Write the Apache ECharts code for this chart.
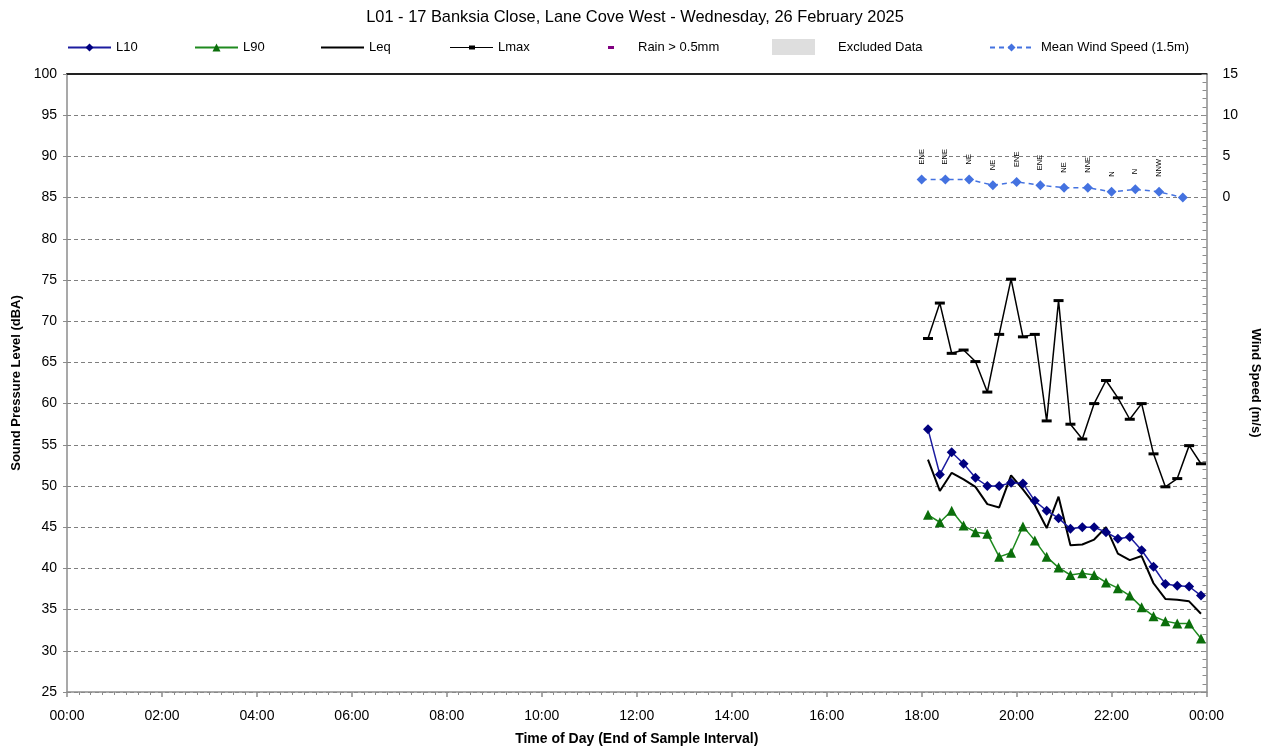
<!DOCTYPE html>
<html>
<head>
<meta charset="utf-8">
<script src="https://cdn.jsdelivr.net/npm/echarts@6/dist/echarts.min.js"></script>
<style>
html,body{margin:0;padding:0;background:#fff;}
#chart{width:1270px;height:751px;}
</style>
</head>
<body>
<div id="chart"></div>
<script>
// ---- Data ----
const titleText = "L01 - 17 Banksia Close, Lane Cove West - Wednesday, 26 February 2025";
const soundTimes = ["18:08","18:23","18:38","18:53","19:08","19:23","19:38","19:53","20:08","20:23","20:38","20:53","21:08","21:23","21:38","21:53","22:08","22:23","22:38","22:53","23:08","23:23","23:38","23:53"];
const L10 = [56.9, 51.4, 54.1, 52.7, 51.0, 50.0, 50.0, 50.4, 50.3, 48.2, 47.0, 46.1, 44.8, 45.0, 45.0, 44.4, 43.6, 43.8, 42.2, 40.2, 38.1, 37.9, 37.8, 36.7];
const L90 = [46.5, 45.6, 47.0, 45.2, 44.4, 44.2, 41.4, 41.9, 45.1, 43.4, 41.4, 40.1, 39.2, 39.4, 39.2, 38.3, 37.6, 36.7, 35.3, 34.2, 33.6, 33.3, 33.3, 31.5];
const Leq = [53.2, 49.4, 51.6, 50.8, 49.9, 47.8, 47.4, 51.3, 49.6, 47.7, 44.9, 48.7, 42.8, 42.9, 43.5, 45.0, 41.8, 41.0, 41.5, 38.2, 36.3, 36.2, 36.0, 34.5];
const Lmax = [67.9, 72.2, 66.1, 66.5, 65.1, 61.4, 68.4, 75.1, 68.1, 68.4, 57.9, 72.5, 57.5, 55.7, 60.0, 62.8, 60.7, 58.1, 60.0, 53.9, 49.9, 50.9, 54.9, 52.7];
const windTimes = ["18:00","18:30","19:00","19:30","20:00","20:30","21:00","21:30","22:00","22:30","23:00","23:30"];
const windSpeed = [2.2, 2.2, 2.2, 1.5, 1.9, 1.5, 1.2, 1.2, 0.7, 1.0, 0.7, 0.0];
const windDirs = ["ENE","ENE","NE","NE","ENE","ENE","NE","NNE","N","N","NNW",""];
const xTickLabels = ["00:00","02:00","04:00","06:00","08:00","10:00","12:00","14:00","16:00","18:00","20:00","22:00","00:00"];

// ---- Helpers ----
function toHours(t){ const p = t.split(":"); return (+p[0]) + (+p[1])/60; }
function pairs(times, vals){ return times.map((t,i)=>[toHours(t), vals[i]]); }

const FONT = "'Liberation Sans', Arial, sans-serif";
const chart = echarts.init(document.getElementById('chart'), null, {renderer:'canvas'});

const legendBase = {
  top: 41, itemHeight: 10, itemWidth: 43, padding: 0,
  textStyle: {fontFamily: FONT, fontSize: 13, color: '#000'},
  selectedMode: false
};
function lg(name, left, extra){ return Object.assign({}, legendBase, {data:[name], left: left}, extra||{}); }

const option = {
  backgroundColor: '#fff',
  animation: false,
  title: {
    text: titleText, left: 'center', top: 4,
    textStyle: {fontFamily: FONT, fontSize: 16.4, fontWeight: 'normal', color: '#000'}
  },
  legend: [
    lg('L10', 67),
    lg('L90', 194),
    lg('Leq', 321, {data:[{name:'Leq', icon:'path://M0,0H43V2H0Z'}], itemHeight: 2}),
    lg('Lmax', 450, {data:[{name:'Lmax', icon:'path://M0,1.4H43V2.6H0Z M19,0H25V4H19Z'}], itemHeight: 4}),
    lg('Rain > 0.5mm', 608, {data:[{name:'Rain > 0.5mm', icon:'rect'}], itemWidth: 6, itemHeight: 3, textStyle:{fontFamily: FONT, fontSize: 13, color:'#000', padding:[0,0,0,19]}}),
    lg('Excluded Data', 772, {data:[{name:'Excluded Data', icon:'rect'}], itemHeight: 16, top: 39, textStyle:{fontFamily: FONT, fontSize: 13, color:'#000', padding:[0,0,0,18]}}),
    lg('Mean Wind Speed (1.5m)', 989, {textStyle:{fontFamily: FONT, fontSize: 13, color:'#000', padding:[0,0,0,3]}})
  ],
  grid: {left: 67, right: 58, top: 74, bottom: 54, containLabel: false},
  xAxis: [{
    type: 'value', min: 0, max: 24, interval: 2,
    name: 'Time of Day (End of Sample Interval)', nameLocation: 'middle', nameGap: 40,
    nameTextStyle: {fontFamily: FONT, fontSize: 14, fontWeight: 'bold', color: '#000'},
    axisLine: {show: true, onZero: false, lineStyle: {color: '#8c8c8c', width: 1.5}},
    axisTick: {show: true, length: 5, lineStyle: {color: '#8c8c8c', width: 1.5}},
    minorTick: {show: true, splitNumber: 8, length: 3, lineStyle: {color: '#8c8c8c', width: 1}},
    axisLabel: {fontFamily: FONT, fontSize: 14, color: '#000', margin: 17,
      formatter: function(v){ return xTickLabels[Math.round(v/2)]; }},
    splitLine: {show: false}
  }, {
    type: 'value', min: 0, max: 24, position: 'top',
    axisLine: {show: true, onZero: false, lineStyle: {color: '#222', width: 2}},
    axisTick: {show: false}, axisLabel: {show: false}, splitLine: {show: false}
  }],
  yAxis: [{
    type: 'value', min: 25, max: 100, interval: 5,
    name: 'Sound Pressure Level (dBA)', nameLocation: 'middle', nameGap: 40,
    nameTextStyle: {fontFamily: FONT, fontSize: 13, fontWeight: 'bold', color: '#000'},
    axisLine: {show: true, onZero: false, lineStyle: {color: '#8c8c8c', width: 1.5}},
    axisTick: {show: true, length: 4, lineStyle: {color: '#8c8c8c'}},
    minorTick: {show: false},
    axisLabel: {fontFamily: FONT, fontSize: 14, color: '#000', margin: 10},
    splitLine: {show: true, lineStyle: {color: '#7f7f7f', type: [4,3], width: 1}}
  }, {
    type: 'value', min: -60, max: 15, interval: 5, position: 'right',
    name: 'Wind Speed (m/s)', nameLocation: 'middle', nameGap: 28, nameRotate: -90,
    nameTextStyle: {fontFamily: FONT, fontSize: 13, fontWeight: 'bold', color: '#000'},
    axisLine: {show: true, onZero: false, lineStyle: {color: '#8c8c8c', width: 1.5}},
    axisTick: {show: true, inside: true, length: 5, lineStyle: {color: '#8c8c8c'}},
    minorTick: {show: true, splitNumber: 5, length: 4, lineStyle: {color: '#8c8c8c'}},
    axisLabel: {fontFamily: FONT, fontSize: 14, color: '#000', margin: 16,
      formatter: function(v){ return v >= 0 ? String(v) : ''; }},
    splitLine: {show: false}
  }],
  series: [
    {
      name: 'Lmax', type: 'line', data: pairs(soundTimes, Lmax),
      symbol: 'rect', symbolSize: [10, 3], showAllSymbol: true,
      lineStyle: {color: '#000', width: 1.5}, itemStyle: {color: '#000'}, z: 2
    },
    {
      name: 'Leq', type: 'line', data: pairs(soundTimes, Leq),
      showSymbol: false, symbol: 'none',
      lineStyle: {color: '#000', width: 2}, itemStyle: {color: '#000'}, z: 3
    },
    {
      name: 'L90', type: 'line', data: pairs(soundTimes, L90),
      symbol: 'triangle', symbolSize: 10, showAllSymbol: true,
      lineStyle: {color: '#1f8a1f', width: 1.5}, itemStyle: {color: '#0b6e0b'}, z: 4
    },
    {
      name: 'L10', type: 'line', data: pairs(soundTimes, L10),
      symbol: 'diamond', symbolSize: 10, showAllSymbol: true,
      lineStyle: {color: '#1c1ca0', width: 1.5}, itemStyle: {color: '#00007f'}, z: 5
    },
    {
      name: 'Rain > 0.5mm', type: 'line', data: [],
      itemStyle: {color: '#800080'}, lineStyle: {color: '#800080'}
    },
    {
      name: 'Excluded Data', type: 'line', data: [],
      itemStyle: {color: '#dedede'}, lineStyle: {color: '#dedede'}
    },
    {
      name: 'Mean Wind Speed (1.5m)', type: 'line', yAxisIndex: 1,
      data: pairs(windTimes, windSpeed),
      symbol: 'diamond', symbolSize: 10, showAllSymbol: true,
      lineStyle: {color: '#4472e0', width: 1.5, type: [5,4]}, itemStyle: {color: '#4472e0'}, z: 6,
      label: {
        show: true, position: 'top', distance: 10, rotate: 90,
        align: 'left', verticalAlign: 'middle',
        fontFamily: FONT, fontSize: 7.5, color: '#000',
        formatter: function(p){ return windDirs[p.dataIndex]; }
      }
    }
  ]
};
chart.setOption(option);
</script>
</body>
</html>
